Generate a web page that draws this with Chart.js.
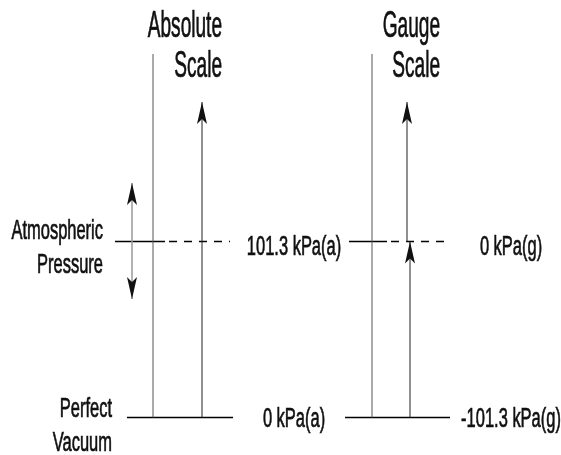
<!DOCTYPE html>
<html>
<head>
<meta charset="utf-8">
<title>Absolute and gauge pressure</title>
<script src="https://cdn.jsdelivr.net/npm/chart.js@4.4.0/dist/chart.umd.min.js"></script>
<style>
    html, body { margin: 0; padding: 0; background: #fff; }
    #wrap { width: 561px; height: 455px; position: relative; }
</style>
</head>
<body>
<div id="wrap"><canvas id="diagram"></canvas></div>
<script>
// pressure levels (y axis is absolute pressure in kPa)
const levelNames = ['Perfect Vacuum', 'Atmospheric Pressure'];
const absoluteValues = [0, 101.3];      // kPa(a)
const gaugeValues = [-101.3, 0];        // kPa(g)
const scaleTitles = ['Absolute Scale', 'Gauge Scale'];
const scaleTop = 209.2;                 // where the scale lines stop
const arrowTop = 181.6;                 // tips of the upward arrows
const atmSwing = [68.2, 135.0];         // up/down arrow beside atmospheric

// diagram columns (x runs 0..561 across the figure)
const absColumns = [153, 202];          // scale line, arrow
const gaugeColumns = [372, 407, 410];   // scale line, upper arrow, lower arrow
const swingColumn = 132;
const atmLeft = [115, 165, 230];        // solid start, dash start, end
const atmRight = [349, 387, 448];
const vacLeft = [127, 233];
const vacRight = [345, 450];

const atm = absoluteValues[1];
const vac = absoluteValues[0];

function seg(points, opts) {
    return Object.assign({
        data: points,
        showLine: true,
        pointRadius: 0,
        borderColor: '#222',
        borderWidth: 1,
        fill: false
    }, opts || {});
}

const datasets = [
    // scale lines
    seg([{ x: absColumns[0], y: vac }, { x: absColumns[0], y: scaleTop }], { borderColor: '#555' }),
    seg([{ x: gaugeColumns[0], y: vac }, { x: gaugeColumns[0], y: scaleTop }], { borderColor: '#555' }),
    // arrows
    seg([{ x: absColumns[1], y: vac }, { x: absColumns[1], y: arrowTop }], { arrow: 'end' }),
    seg([{ x: gaugeColumns[1], y: gaugeValues[1] + atm }, { x: gaugeColumns[1], y: arrowTop }], { arrow: 'end' }),
    seg([{ x: gaugeColumns[2], y: gaugeValues[0] + atm }, { x: gaugeColumns[2], y: gaugeValues[1] + atm }], { arrow: 'end' }),
    seg([{ x: swingColumn, y: atmSwing[0] }, { x: swingColumn, y: atmSwing[1] }], { arrow: 'both', borderColor: '#999', borderWidth: 1.5 }),
    // atmospheric level
    seg([{ x: atmLeft[0], y: atm }, { x: atmLeft[1], y: atm }], { borderColor: '#000', borderWidth: 1.5 }),
    seg([{ x: atmLeft[1], y: atm }, { x: atmLeft[2], y: atm }], { borderColor: '#000', borderWidth: 1.5, borderDash: [8, 7], borderDashOffset: -4 }),
    seg([{ x: atmRight[0], y: atm }, { x: atmRight[1], y: atm }], { borderColor: '#000', borderWidth: 1.5 }),
    seg([{ x: atmRight[1], y: atm }, { x: atmRight[2], y: atm }], { borderColor: '#000', borderWidth: 1.5, borderDash: [8, 7], borderDashOffset: -4 }),
    // perfect vacuum level
    seg([{ x: vacLeft[0], y: vac }, { x: vacLeft[1], y: vac }], { borderColor: '#000', borderWidth: 1.5 }),
    seg([{ x: vacRight[0], y: vac }, { x: vacRight[1], y: vac }], { borderColor: '#000', borderWidth: 1.5 })
];

// barbed arrow heads at the ends of the marked segments
const arrowPlugin = {
    id: 'arrowHeads',
    afterDatasetsDraw(chart) {
        const ctx = chart.ctx;
        chart.data.datasets.forEach((ds, i) => {
            if (!ds.arrow) return;
            const pts = chart.getDatasetMeta(i).data;
            const a = pts[0], b = pts[pts.length - 1];
            drawHead(ctx, a, b);
            if (ds.arrow === 'both') drawHead(ctx, b, a);
        });
    }
};

function drawHead(ctx, from, tip) {
    const len = 22, half = 5, notch = 17;
    let dx = tip.x - from.x, dy = tip.y - from.y;
    const d = Math.hypot(dx, dy) || 1;
    dx /= d; dy /= d;
    const nx = -dy, ny = dx;
    ctx.save();
    ctx.fillStyle = '#111';
    ctx.beginPath();
    ctx.moveTo(tip.x, tip.y);
    ctx.lineTo(tip.x - len * dx + half * nx, tip.y - len * dy + half * ny);
    ctx.lineTo(tip.x - notch * dx, tip.y - notch * dy);
    ctx.lineTo(tip.x - len * dx - half * nx, tip.y - len * dy - half * ny);
    ctx.closePath();
    ctx.fill();
    ctx.restore();
}

// all the words, drawn in a narrow face
const textPlugin = {
    id: 'diagramText',
    afterDraw(chart) {
        const ctx = chart.ctx;
        const y = chart.scales.y;

        function put(str, px, py, align, size, squeeze) {
            ctx.save();
            ctx.translate(px, py);
            ctx.scale(squeeze, 1);
            ctx.font = size + 'px "Liberation Sans", Arial, sans-serif';
            ctx.textAlign = align;
            ctx.textBaseline = 'alphabetic';
            ctx.fillStyle = '#111';
            ctx.strokeStyle = '#111';
            ctx.lineWidth = 0.7;
            ctx.fillText(str, 0, 0);
            ctx.strokeText(str, 0, 0);
            ctx.restore();
        }

        // titles over the two scales
        const top = y.getPixelForValue(scaleTop);
        const titleRight = [222, 440];
        scaleTitles.forEach((t, i) => {
            const words = t.split(' ');
            put(words[0], titleRight[i], top - 17, 'right', 36, 0.53);
            put(words[1], titleRight[i], top + 23, 'right', 36, 0.53);
        });

        // level names on the left
        const nameRight = [112, 103];
        const nameShift = [-0.5, -2.5];
        levelNames.forEach((t, i) => {
            const py = y.getPixelForValue(absoluteValues[i]) + nameShift[i];
            const words = t.split(' ');
            put(words[0], nameRight[i], py, 'right', 27, 0.61);
            put(words[1], nameRight[i], py + 34, 'right', 27, 0.61);
        });

        // readings on each scale
        const absCentre = 294, gaugeCentre = 511;
        const valShift = [9.5, 13.5];
        absoluteValues.forEach((v, i) => {
            const py = y.getPixelForValue(v) + valShift[i];
            put(v + ' kPa(a)', absCentre, py, 'center', 27, 0.61);
            put(gaugeValues[i] + ' kPa(g)', gaugeCentre, py, 'center', 27, 0.61);
        });
    }
};

const chart = new Chart(document.getElementById('diagram'), {
    type: 'scatter',
    data: { datasets: datasets },
    options: {
        responsive: true,
        maintainAspectRatio: false,
        animation: false,
        events: [],
        layout: { padding: 0 },
        plugins: {
            legend: { display: false },
            tooltip: { enabled: false }
        },
        scales: {
            x: { type: 'linear', min: 0, max: 561, display: false },
            y: { type: 'linear', min: -21.6, max: 240.3, display: false }
        }
    },
    plugins: [arrowPlugin, textPlugin]
});
</script>
</body>
</html>
